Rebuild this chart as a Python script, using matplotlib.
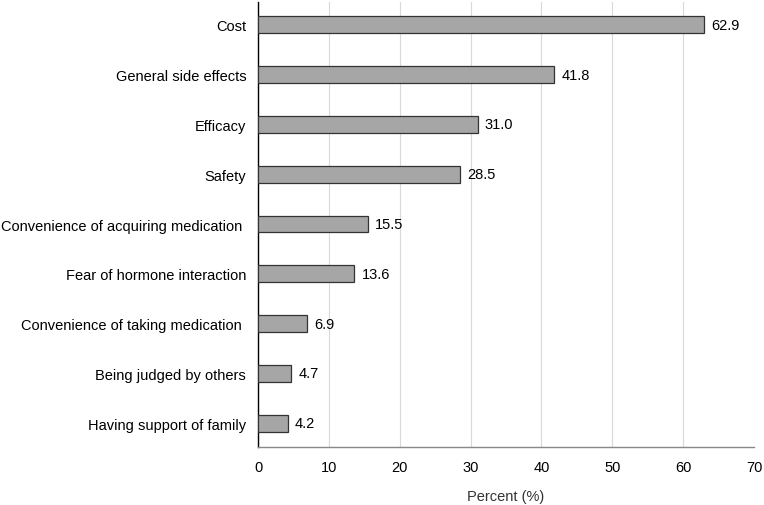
import matplotlib.pyplot as plt

plt.rcParams['font.family'] = ['Liberation Sans', 'DejaVu Sans']

# data
barriers = ['Cost', 'General side effects', 'Efficacy', 'Safety',
            'Convenience of acquiring medication ', 'Fear of hormone interaction',
            'Convenience of taking medication ', 'Being judged by others',
            'Having support of family']
percent = [62.9, 41.8, 31.0, 28.5, 15.5, 13.6, 6.9, 4.7, 4.2]
xticks = [0, 10, 20, 30, 40, 50, 60, 70]

fig = plt.figure(figsize=(7.64, 5.06), dpi=100)
ax = fig.add_axes([0.3377, 0.1146, 0.6492, 0.8794])

ypos = list(range(len(barriers)))
ax.barh(ypos, percent, height=0.34, color='#a6a6a6', edgecolor='#333333', linewidth=0.9, zorder=3)
for y, v in zip(ypos, percent):
    ax.text(v + 1.0, y, f'{v:.1f}', va='center', ha='left', fontsize=10.5, color='black')

ax.set_yticks(ypos)
ax.set_yticklabels(barriers, fontsize=10.5)
ax.set_ylim(8.48, -0.46)
ax.set_xlim(0, 70)
ax.set_xticks(xticks)
ax.set_xticklabels([str(t) for t in xticks], fontsize=10.5)
ax.tick_params(axis='both', length=0)
ax.tick_params(axis='y', pad=8.5)
ax.tick_params(axis='x', pad=9)
ax.grid(axis='x', color='#d9d9d9', linewidth=0.8, zorder=0)
ax.set_axisbelow(True)

for s in ['top', 'right']:
    ax.spines[s].set_visible(False)
ax.spines['left'].set_color('black')
ax.spines['left'].set_linewidth(1.0)
ax.spines['bottom'].set_color('#888888')
ax.spines['bottom'].set_linewidth(1.0)

ax.set_xlabel('Percent (%)', fontsize=10.5, color='#333333', labelpad=11)

fig.savefig('out.png', dpi=100)
